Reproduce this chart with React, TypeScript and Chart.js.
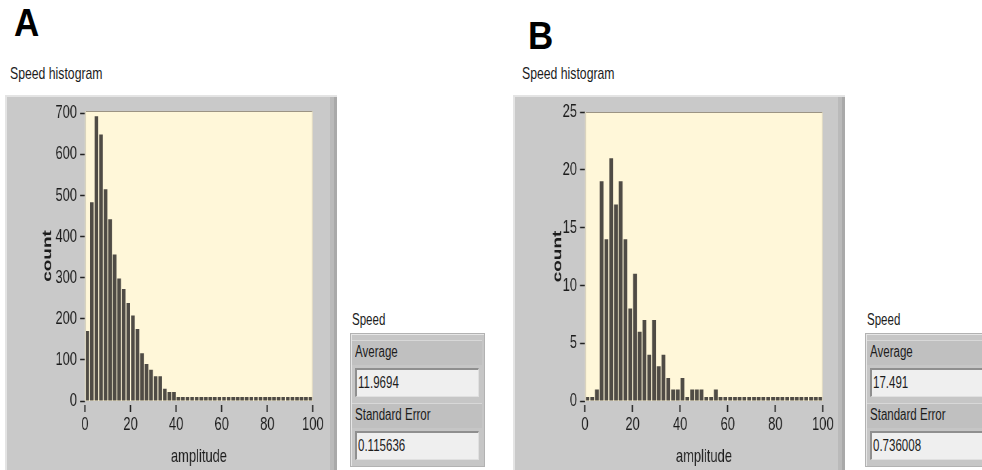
import React, { useEffect, useRef } from "react";
import { Chart, registerables } from "chart.js";

Chart.register(...registerables);

// ---------- data ----------
const BIN_WIDTH = 2;
const countsA = [
  170, 483, 692, 648, 515, 442, 356, 298, 272, 238,
  208, 175, 116, 90, 76, 60, 60, 30, 22, 22,
  8, 7, 5, 2, 0, 0, 0, 0, 0, 0,
  0, 0, 0, 0, 0, 0, 0, 0, 0, 0,
  0, 0, 0, 0, 0, 0, 0, 0, 0, 0,
];
const countsB = [
  0, 0, 1, 19, 14, 21, 17, 19, 14, 8,
  11, 6, 7, 4, 7, 3, 4, 2, 1, 1,
  2, 0, 1, 1, 1, 0, 0, 1, 0, 0,
  0, 0, 0, 0, 0, 0, 0, 0, 0, 0,
  0, 0, 0, 0, 0, 0, 0, 0, 0, 0,
];
const xTickValues = [0, 20, 40, 60, 80, 100];
const yTicksA = [0, 100, 200, 300, 400, 500, 600, 700];
const yTicksB = [0, 5, 10, 15, 20, 25];
const speedLabels = ["Average", "Standard Error"];
const speedValuesA = ["11.9694", "0.115636"];
const speedValuesB = ["17.491", "0.736008"];

// ---------- styles ----------
const SANS = "'Liberation Sans', Arial, sans-serif";
const SQUEEZE = 0.68; // horizontal squeeze of the chart canvases
const BAR = "#4f4b45";
const PLOT_BG = "#fff7d9";
const TEXT = "#1c1c1c";

const plotBg = {
  id: "plotBg",
  beforeDatasetsDraw(chart: any) {
    const { ctx, chartArea: a } = chart;
    ctx.save();
    ctx.fillStyle = PLOT_BG;
    ctx.fillRect(a.left, a.top, a.right - a.left, a.bottom - a.top);
    ctx.restore();
  },
  afterDatasetsDraw(chart: any) {
    const { ctx, chartArea: a } = chart;
    ctx.save();
    ctx.lineWidth = 1;
    ctx.strokeStyle = "#9c9484";
    ctx.beginPath();
    ctx.moveTo(a.left, a.top + 0.5);
    ctx.lineTo(a.right, a.top + 0.5);
    ctx.stroke();
    ctx.strokeStyle = "#d8d2be";
    ctx.lineWidth = 1.4;
    ctx.beginPath();
    ctx.moveTo(a.left + 0.7, a.top);
    ctx.lineTo(a.left + 0.7, a.bottom);
    ctx.moveTo(a.right - 0.7, a.top);
    ctx.lineTo(a.right - 0.7, a.bottom);
    ctx.stroke();
    ctx.restore();
  },
};

type HistProps = {
  counts: number[];
  yMax: number;
  yTicks: number[];
  left: number;
  top: number;
  width: number; // page px
  height: number;
  yScaleWidth: number; // page px
  padTop: number;
  padRight: number; // page px
  yTitleCenter: number; // page px from canvas left
};

function Histogram(p: HistProps) {
  const ref = useRef<HTMLCanvasElement | null>(null);
  const logicalW = Math.round(p.width / SQUEEZE);
  useEffect(() => {
    if (!ref.current) return;
    const binCenters = p.counts.map((_, i) => i * BIN_WIDTH + BIN_WIDTH / 2);
    const titleFont = 19;
    const chart = new Chart(ref.current, {
      type: "bar",
      data: {
        datasets: [
          {
            data: p.counts.map((c, i) => ({ x: binCenters[i], y: c })),
            backgroundColor: BAR,
            borderWidth: 0,
            barPercentage: 0.8,
            categoryPercentage: 1,
            minBarLength: 4,
            clip: 0,
          } as any,
        ],
      },
      options: {
        responsive: false,
        maintainAspectRatio: false,
        animation: false,
        devicePixelRatio: 1,
        layout: { padding: { left: 0, top: p.padTop, right: p.padRight / SQUEEZE, bottom: 0 } },
        plugins: {
          legend: { display: false },
          tooltip: { enabled: false },
          title: { display: false },
        },
        scales: {
          x: {
            type: "linear",
            min: 0,
            max: 100,
            offset: false,
            border: { display: false },
            grid: {
              display: true,
              drawOnChartArea: false,
              drawTicks: true,
              offset: false,
              tickLength: 11,
              tickColor: "#222",
              tickWidth: 1.3 / SQUEEZE,
              tickBorderDash: [0, 4, 7, 40],
            } as any,
            ticks: {
              font: { family: SANS, size: 19 },
              color: TEXT,
              padding: 1,
              maxRotation: 0,
              autoSkip: false,
            },
            afterBuildTicks: (s: any) => {
              s.ticks = xTickValues.map((v) => ({ value: v }));
            },
            afterFit: (s: any) => {
              s.height = 69;
            },
            title: {
              display: true,
              text: "amplitude",
              font: { family: SANS, size: 19 },
              color: TEXT,
              padding: { top: 0, bottom: 1.5 },
            },
          },
          y: {
            type: "linear",
            min: 0,
            max: p.yMax,
            border: { display: false },
            grid: {
              display: true,
              drawOnChartArea: false,
              drawTicks: true,
              tickLength: 7 / SQUEEZE,
              tickColor: "#222",
              tickWidth: 1.3,
              tickBorderDash: [0, 2 / SQUEEZE, 5 / SQUEEZE, 60],
            } as any,
            ticks: {
              font: { family: SANS, size: 19 },
              color: TEXT,
              padding: 1.5,
              includeBounds: false,
              autoSkip: false,
            } as any,
            afterBuildTicks: (s: any) => {
              s.ticks = p.yTicks.map((v) => ({ value: v }));
            },
            afterFit: (s: any) => {
              s.width = p.yScaleWidth / SQUEEZE;
            },
            title: {
              display: true,
              text: "count",
              font: { family: SANS, size: titleFont, weight: "bold" },
              color: TEXT,
              padding: { top: p.yTitleCenter / SQUEEZE - (titleFont * 1.2) / 2, bottom: 0 },
            },
          },
        },
      },
      plugins: [plotBg],
    });
    return () => chart.destroy();
  }, []);
  return (
    <canvas
      ref={ref}
      width={logicalW}
      height={p.height}
      style={{
        position: "absolute",
        left: p.left,
        top: p.top,
        width: logicalW,
        height: p.height,
        transform: `scaleX(${SQUEEZE})`,
        transformOrigin: "0 0",
      }}
    />
  );
}

const frameStyle = (left: number, top: number, width: number, height: number): React.CSSProperties => ({
  position: "absolute",
  left,
  top,
  width,
  height,
  background: "#c9c9c9",
  boxSizing: "border-box",
  boxShadow:
    "inset 2px 2px 0 #e4e4e4, inset -3px 0 0 #a9a9a9, inset -7px 0 0 #bababa, inset 0 -2px 0 #b5b5b5",
});

const txt = (
  left: number,
  top: number,
  size: number,
  squeeze: number,
  extra: React.CSSProperties = {}
): React.CSSProperties => ({
  position: "absolute",
  left,
  top,
  fontFamily: SANS,
  fontSize: size,
  lineHeight: "1",
  color: TEXT,
  whiteSpace: "nowrap",
  transform: `scaleX(${squeeze})`,
  transformOrigin: "0 0",
  ...extra,
});

function SpeedBox({ left, values }: { left: number; values: string[] }) {
  return (
    <>
      <div style={txt(left + 2, 312, 16, 0.72)}>Speed</div>
      <div
        style={{
          position: "absolute",
          left,
          top: 333,
          width: 135,
          height: 134,
          background: "#c6c6c6",
          boxSizing: "border-box",
          border: "1px solid #b2b2b2",
          boxShadow: "inset 1px 1px 0 #e6e6e6",
        }}
      />
      {speedLabels.map((lab, i) => {
        const base = 340 + i * 63;
        return (
          <React.Fragment key={lab}>
            <div
              style={{
                position: "absolute",
                left: left + 2,
                top: base,
                width: 130,
                height: 25,
                background: "#c0c0c0",
                boxShadow: "inset 0 1px 0 #d8d8d8",
              }}
            />
            <div style={txt(left + 5, base + 4, 16, 0.72)}>{lab}</div>
            <div
              style={{
                position: "absolute",
                left: left + 5,
                top: base + 28,
                width: 124,
                height: 29,
                background: "#efefef",
                boxSizing: "border-box",
                borderTop: "2px solid #8f8f8f",
                borderLeft: "2px solid #8f8f8f",
                borderRight: "1px solid #e0e0e0",
                borderBottom: "1px solid #e0e0e0",
              }}
            />
            <div style={txt(left + 8, base + 35, 16, 0.72)}>{values[i]}</div>
          </React.Fragment>
        );
      })}
    </>
  );
}

export default function App() {
  return (
    <div
      style={{
        position: "absolute",
        left: 0,
        top: 0,
        width: 982,
        height: 470,
        overflow: "hidden",
        background: "#ffffff",
      }}
    >
      {/* Panel A */}
      <div style={txt(14, 4, 38, 0.92, { fontWeight: "bold", color: "#000" })}>A</div>
      <div style={txt(10, 65, 17, 0.72)}>Speed histogram</div>
      <div style={frameStyle(5, 95, 332, 380)} />
      <Histogram
        counts={countsA}
        yMax={705}
        yTicks={yTicksA}
        left={5}
        top={95}
        width={332}
        height={375}
        yScaleWidth={80}
        padTop={16}
        padRight={24}
        yTitleCenter={42.5}
      />
      <SpeedBox left={350} values={speedValuesA} />

      {/* Panel B */}
      <div style={txt(528, 17, 38, 0.92, { fontWeight: "bold", color: "#000" })}>B</div>
      <div style={txt(522, 65, 17, 0.72)}>Speed histogram</div>
      <div style={frameStyle(513, 95, 332, 380)} />
      <Histogram
        counts={countsB}
        yMax={25}
        yTicks={yTicksB}
        left={513}
        top={95}
        width={332}
        height={375}
        yScaleWidth={72}
        padTop={17}
        padRight={22}
        yTitleCenter={44.5}
      />
      <SpeedBox left={865} values={speedValuesB} />
    </div>
  );
}
